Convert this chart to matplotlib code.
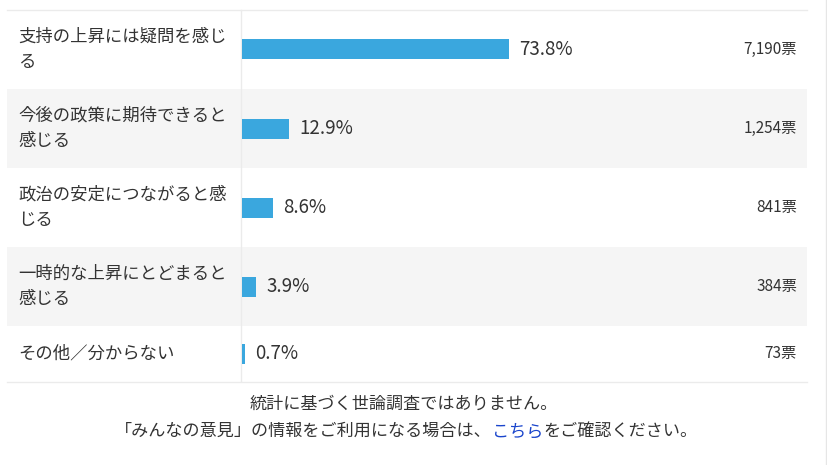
import matplotlib
matplotlib.use("Agg")
import matplotlib.pyplot as plt
from matplotlib.patches import Rectangle

plt.rcParams['font.family'] = ['Noto Sans CJK JP', 'DejaVu Sans']

labels = [
    "支持の上昇には疑問を感じ\nる",
    "今後の政策に期待できると\n感じる",
    "政治の安定につながると感\nじる",
    "一時的な上昇にとどまると\n感じる",
    "その他／分からない",
]
percents = [73.8, 12.9, 8.6, 3.9, 0.7]
votes = [7190, 1254, 841, 384, 73]
note_line1 = "統計に基づく世論調査ではありません。"
note_line2 = ["「みんなの意見」の情報をご利用になる場合は、", "こちら", "をご確認ください。"]

W, H = 828, 465
fig = plt.figure(figsize=(W / 100, H / 100), dpi=100)
fig.patch.set_facecolor("white")

# background axes in pixel units
bg = fig.add_axes([0, 0, 1, 1])
bg.set_xlim(0, W)
bg.set_ylim(H, 0)
bg.axis("off")

top = 10
left, right = 7, 807
div_x = 241.5
heights = [31 + 24 * (lab.count("\n") + 1) for lab in labels]
ys = []
y = top
for i, h in enumerate(heights):
    if i % 2 == 1:
        bg.add_patch(Rectangle((left, y), right - left, h, facecolor="#f5f5f5", edgecolor="none", zorder=0))
    ys.append(y + h / 2)
    y += h
bottom = y
bg.plot([left, right], [top, top], color="#ebebeb", lw=1, zorder=1)
bg.plot([left, right], [bottom + 0.5, bottom + 0.5], color="#ebebeb", lw=1, zorder=1)
bg.plot([div_x, div_x], [top, bottom], color="#ebebeb", lw=1, zorder=1)
bg.plot([826, 826], [0, H], color="#e6e6e6", lw=1, zorder=1)

for lab, yc, v in zip(labels, ys, votes):
    bg.text(18, yc, lab, ha="left", va="center", fontsize=12.5, color="#333333",
            linespacing=1.55)
    bg.text(797, yc, f"{v:,}票", ha="right", va="center", fontsize=11, color="#333333")

# bar axes: 0..100% spans 242..604 px
bar_left = 242
px_per_pct = 3.62
ax = fig.add_axes([bar_left / W, (H - bottom) / H, (right - bar_left) / W, (bottom - top) / H])
ax.set_xlim(0, (right - bar_left) / px_per_pct)
ax.set_ylim(bottom - top, 0)
ax.axis("off")
ax.patch.set_alpha(0)
ycent = [yc - top for yc in ys]
ax.barh(ycent, percents, height=20, color="#3aa7de", left=0)
for p, yc in zip(percents, ycent):
    ax.annotate(f"{p:.1f}%", (p, yc), xytext=(7.5, 0), textcoords="offset points",
                ha="left", va="center", fontsize=13.5, color="#333333")

# footer
bg.text(404, 404, note_line1, ha="center", va="center", fontsize=12.3, color="#333333")
fig.canvas.draw()
r = fig.canvas.get_renderer()
colors = ["#333333", "#1a45cc", "#333333"]
parts = []
for s, c in zip(note_line2, colors):
    t = bg.text(0, 431, s, ha="left", va="center", fontsize=12.3, color=c)
    parts.append(t)
widths = [t.get_window_extent(r).width for t in parts]
total = sum(widths)
x0 = 406 - total / 2
for t, w in zip(parts, widths):
    t.set_x(x0)
    x0 += w

fig.savefig("out.png", dpi=100, facecolor="white")
